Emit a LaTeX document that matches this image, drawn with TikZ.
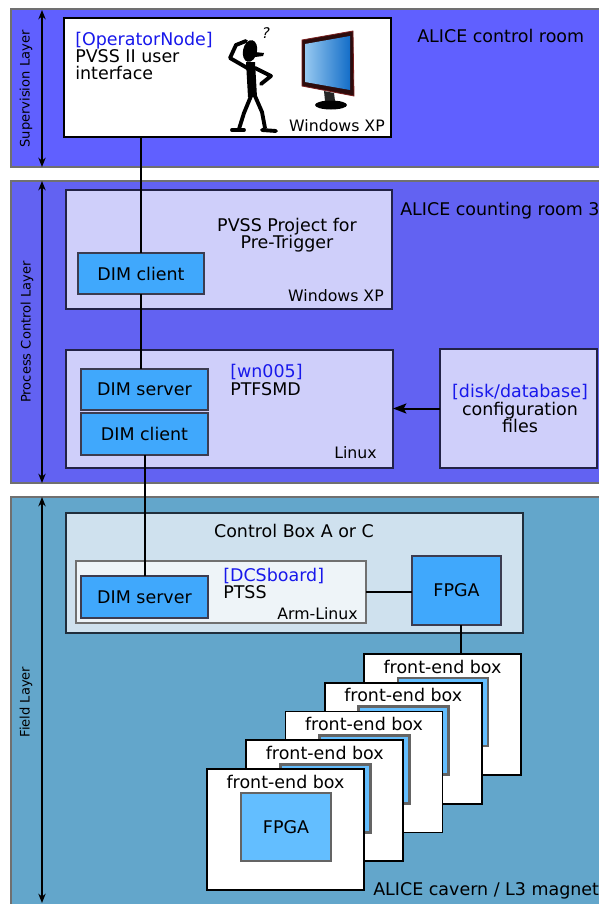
\documentclass[tikz,border=0pt]{standalone}
\usepackage{fontspec}
\setmainfont{DejaVu Sans}
\usetikzlibrary{arrows.meta,fit,calc}

% palette
\definecolor{supfill}{RGB}{96,96,255}
\definecolor{procfill}{RGB}{98,98,242}
\definecolor{fieldfill}{RGB}{99,166,203}
\definecolor{bandline}{RGB}{112,112,112}
\definecolor{lavfill}{RGB}{207,207,250}
\definecolor{lavline}{RGB}{34,34,70}
\definecolor{dimfill}{RGB}{64,168,252}
\definecolor{dimline}{RGB}{60,60,80}
\definecolor{ctrlfill}{RGB}{207,225,238}
\definecolor{ctrlline}{RGB}{32,46,60}
\definecolor{dcsfill}{RGB}{238,244,248}
\definecolor{fefpga}{RGB}{99,190,255}
\definecolor{fegray}{RGB}{100,100,100}
\definecolor{tagblue}{RGB}{24,24,235}
\definecolor{monframe}{RGB}{45,12,12}
\definecolor{monedge}{RGB}{120,30,30}

\newcommand\mainsz{\fontsize{13.1pt}{13.1pt}\selectfont}
\newcommand\smallsz{\fontsize{11.8pt}{11.8pt}\selectfont}
\newcommand\layersz{\fontsize{9.8pt}{9.8pt}\selectfont}

\begin{document}
\begin{tikzpicture}[x=0.75pt,y=-0.75pt,
  every node/.style={font=\mainsz, text=black},
  every label/.style={inner sep=0pt, font=\mainsz},
  band/.style={draw=bandline, line width=1.6pt},
  boxfit/.style={inner sep=0pt, outer sep=0pt},
  whitebox/.style={boxfit, draw=black, fill=white, line width=1.6pt},
  lavbox/.style={boxfit, draw=lavline, fill=lavfill, line width=1.6pt},
  dimbox/.style={boxfit, draw=dimline, fill=dimfill, line width=1.7pt},
  ctrlbox/.style={boxfit, draw=ctrlline, fill=ctrlfill, line width=2.2pt},
  dcsbox/.style={boxfit, draw=bandline, fill=dcsfill, line width=1pt},
  febox/.style={boxfit, draw=black, fill=white, line width=1.4pt},
  fegbox/.style={boxfit, draw=fegray, fill=fefpga, line width=1.9pt},
  lbl/.style={inner sep=0pt, anchor=base west},
  lblr/.style={inner sep=0pt, anchor=base east, font=\smallsz},
  lblc/.style={inner sep=0pt, anchor=base},
  tag/.style={text=tagblue},
  layerlbl/.style={inner sep=0pt, rotate=90, font=\layersz},
  layerarrow/.style={{Stealth[length=7pt,width=5.5pt]}-{Stealth[length=7pt,width=5.5pt]}, line width=1.1pt},
  wire/.style={line width=1.5pt, draw=black},
  figline/.style={line width=2.9pt, line cap=round, line join=round}
]
\useasboundingbox (0,0) rectangle (599,904);
\clip (0,0) rectangle (599,904);
\fill[white] (0,0) rectangle (599,904);

% ---------------- layer bands ----------------
\path[band, fill=supfill] (11,9) rectangle (640,167);
\path[band, fill=procfill] (11,181) rectangle (640,483);
\path[band, fill=fieldfill] (11,497) rectangle (640,930);

\coordinate (supT) at (42,10);   \coordinate (supB) at (42,167);
\coordinate (procT) at (42,181); \coordinate (procB) at (42,483);
\coordinate (fldT) at (42,497);  \coordinate (fldB) at (42,903);
\draw[layerarrow] (supT) -- (supB);
\draw[layerarrow] (procT) -- (procB);
\draw[layerarrow] (fldT) -- (fldB);

\node[layerlbl] (suplbl) at (26,89) {Supervision Layer};
\node[layerlbl] (proclbl) at (27,332) {Process Control Layer};
\node[layerlbl] (fldlbl) at (26,702) {Field Layer};

% ---------------- supervision: control room ----------------
\node[lbl] (ctrlroom) at (417,42) {ALICE control room};
\node[whitebox, fit={(64,18) (391,137)}] (op) {};
\node[lbl, tag] (optag) at (75,45) {[OperatorNode]};
\node[lbl] (opl1) at (75,62) {PVSS II user};
\node[lbl] (opl2) at (75,79) {interface};
\node[lblr] (opos) at (385,131) {Windows XP};

% puzzled operator
\begin{scope}
  \fill[rotate around={-12:(250,51)}] (250,51) ellipse [x radius=7, y radius=11];
  \fill (255,52) -- (264,53) -- (263,56) -- (255,57) -- cycle;
  \fill (246,62) -- (255,62) -- (257,97) -- (248,97) -- cycle;
  \draw[figline] (249,69) -- (230,58) -- (236,45) -- (246,41);
  \draw[figline] (255,68) -- (271,76) -- (261,84);
  \draw[figline] (251,96) -- (244,113) -- (239,129);
  \draw[figline] (232,130) -- (244,130);
  \draw[figline] (255,96) -- (262,112) -- (265,128);
  \draw[figline] (262,130) -- (276,131);
  \node[inner sep=0pt, font=\fontsize{11pt}{11pt}\itshape] (qmark) at (266,33) {?};
\end{scope}

% monitor
\begin{scope}
  \fill[monframe, draw=monedge, line width=0.6pt] (302,40) -- (353,31) -- (354,96) -- (302,86) -- cycle;
  \shade[left color={rgb,255:red,150;green,200;blue,240}, right color={rgb,255:red,20;green,110;blue,200}]
    (305,44) -- (350,36) -- (350,90) -- (305,82) -- cycle;
  \fill[black!85] (324,91) -- (334,93) -- (335,101) -- (325,101) -- cycle;
  \fill[black] (331,105) ellipse [x radius=16, y radius=4.5];
\end{scope}

% ---------------- process control: counting room ----------------
\node[lbl] (cntroom) at (400,215) {ALICE counting room 3};

\node[lavbox, fit={(66,190) (392,309)}] (pvss) {};
\node[lblc] (pvssl1) at (287,231) {PVSS Project for};
\node[lblc] (pvssl2) at (287,248) {Pre-Trigger};
\node[lblr] (pvssos) at (384,301) {Windows XP};
\node[dimbox, fit={(78,253) (204,294)}, label=center:DIM client] (dimc1) {};

\node[lavbox, fit={(66,350) (393,468)}] (wn) {};
\node[lbl, tag] (wntag) at (230,377) {[wn005]};
\node[lbl] (wnname) at (230,395) {PTFSMD};
\node[lblr] (wnos) at (377,458) {Linux};
\node[dimbox, fit={(81,369) (208,410)}, label=center:DIM server] (dims1) {};
\node[dimbox, fit={(81,413) (208,455)}, label=center:DIM client] (dimc2) {};

\node[lavbox, fit={(440,349) (597,468)}] (cfg) {};
\node[lblc, tag] (cfgtag) at (520,397) {[disk/database]};
\node[lblc] (cfgl1) at (520,415) {configuration};
\node[lblc] (cfgl2) at (520,432) {files};

% ---------------- field layer ----------------
\node[ctrlbox, fit={(66,513) (523,633)}] (cbox) {};
\node[lblc] (cboxtitle) at (294,537) {Control Box A or C};
\node[dcsbox, fit={(76,561) (366,623)}] (dcs) {};
\node[lbl, tag] (dcstag) at (223,581) {[DCSboard]};
\node[lbl] (dcsname) at (223,598) {PTSS};
\node[lblr] (dcsos) at (358,619) {Arm-Linux};
\node[dimbox, fit={(81,576) (208,618)}, label=center:DIM server] (dims2) {};
\node[dimbox, fit={(412,556) (501,625)}, label=center:FPGA] (fpga) {};

% stack of front-end boxes, back to front
\foreach \k in {4,3,2,1,0} {
  \pgfmathsetmacro\bx{207+39.25*\k}
  \pgfmathsetmacro\by{769-28.75*\k}
  \node[febox, fit={(\bx,\by) (\bx+157,\by+121)}] (fe\k) {};
  \node[lblc] (fet\k) at (\bx+78.5,\by+19) {front-end box};
  \ifnum\k=0
    \node[fegbox, fit={(\bx+34,\by+24) (\bx+124,\by+92)}, label=center:FPGA] (feg\k) {};
  \else
    \node[fegbox, fit={(\bx+34,\by+24) (\bx+124,\by+92)}] (feg\k) {};
  \fi
}

\node[lbl] (cavern) at (373,895) {ALICE cavern / L3 magnet};

% ---------------- connections ----------------
\draw[wire] (dimc1.north) -- (dimc1.north |- op.south);
\draw[wire] (dimc1.south) -- (dimc1.south |- dims1.north);
\draw[wire] (dimc2.south) -- (dims2.north);
\draw[wire] (dcs.east) -- (dcs.east -| fpga.west);
\draw[wire] ([xshift=3.5pt]fpga.south) -- ([xshift=3.5pt]fpga.south |- fe4.north);
\draw[wire, -{Stealth[length=10pt,width=7.5pt,inset=2pt]}] (cfg.west) -- (cfg.west -| wn.east);
\end{tikzpicture}
\end{document}
